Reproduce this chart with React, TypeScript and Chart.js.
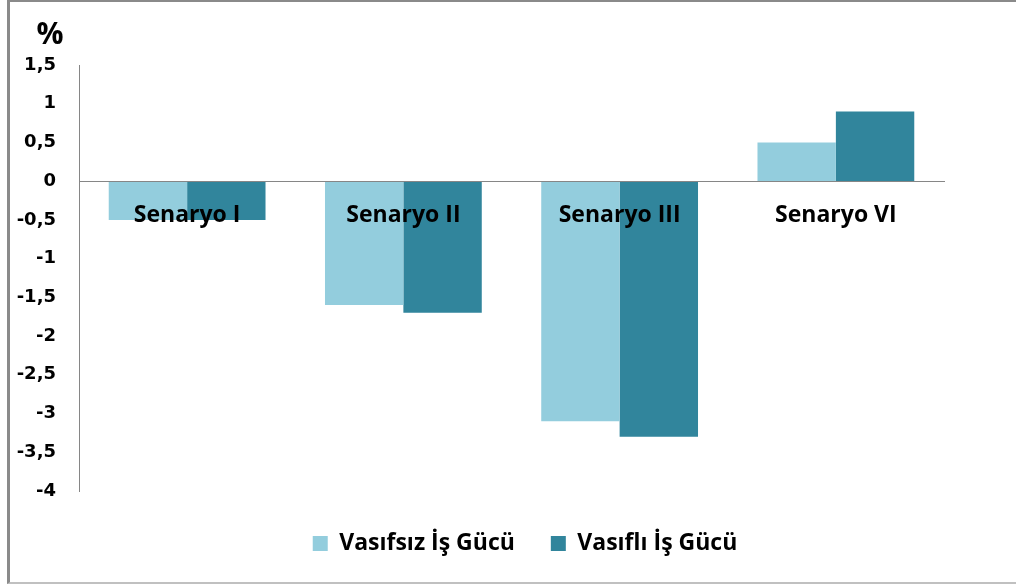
import React, { useEffect, useRef } from "react";
import { Chart, registerables } from "chart.js";

Chart.register(...registerables);

const categories = ["Senaryo I", "Senaryo II", "Senaryo III", "Senaryo VI"];
const unskilledValues = [-0.5, -1.6, -3.1, 0.5];
const skilledValues = [-0.5, -1.7, -3.3, 0.9];
const seriesNames = ["Vasıfsız İş Gücü", "Vasıflı İş Gücü"];
const seriesColors = ["#93CDDD", "#31859C"];
const unitLabel = "%";

const FONT = "'Open Sans', sans-serif";
const TICK_FONT = "'DejaVu Sans', sans-serif";

const unitPlugin = {
  id: "unitLabel",
  afterDraw(chart: any) {
    const ctx = chart.ctx;
    ctx.save();
    ctx.font = `bold 30px ${FONT}`;
    ctx.fillStyle = "#000";
    ctx.textAlign = "center";
    ctx.textBaseline = "middle";
    ctx.fillText(unitLabel, 40, 33);
    ctx.restore();
  },
};

export default function App() {
  const ref = useRef<HTMLCanvasElement | null>(null);

  useEffect(() => {
    if (!ref.current) return;
    const chart = new Chart(ref.current, {
      type: "bar",
      data: {
        labels: categories,
        datasets: [
          {
            label: seriesNames[0],
            data: unskilledValues,
            backgroundColor: seriesColors[0],
            borderWidth: 0,
            categoryPercentage: 0.725,
            barPercentage: 1,
          },
          {
            label: seriesNames[1],
            data: skilledValues,
            backgroundColor: seriesColors[1],
            borderWidth: 0,
            categoryPercentage: 0.725,
            barPercentage: 1,
          },
        ],
      },
      plugins: [unitPlugin],
      options: {
        responsive: false,
        maintainAspectRatio: false,
        animation: false,
        layout: { padding: { top: 63, left: 0, right: -24, bottom: 17 } },
        plugins: {
          tooltip: { enabled: false },
          title: { display: false },
          legend: {
            position: "bottom",
            title: { display: true, text: " ", font: { size: 5, lineHeight: 1 }, padding: 0 },
            labels: {
              boxWidth: 15,
              boxHeight: 15,
              padding: 36,
              color: "#000",
              font: { family: FONT, weight: "bold", size: 23 },
            },
          },
        },
        scales: {
          x: {
            position: { y: 0 } as any,
            grid: { display: false, drawTicks: false },
            border: { display: true, color: "#868686", width: 1, z: 1 },
            ticks: {
              z: 2,
              color: "#000",
              padding: 20,
              font: { family: FONT, weight: "bold", size: 23 },
            },
            afterFit(s: any) {
              s.height = 0;
            },
          },
          y: {
            min: -4,
            max: 1.5,
            grid: { display: false, drawTicks: false },
            border: { display: true, color: "#868686", width: 1 },
            ticks: {
              stepSize: 0.5,
              color: "#000",
              padding: 23,
              font: { family: TICK_FONT, weight: "bold", size: 18 },
              callback: (v: any) => String(Math.round(Number(v) * 10) / 10).replace(".", ","),
            },
            afterFit(s: any) {
              s.width = 69;
            },
          },
          yRight: {
            position: "right",
            display: true,
            grid: { display: false, drawTicks: false },
            border: { display: false },
            ticks: { display: false },
            afterFit(s: any) {
              s.width = 96;
            },
          },
        },
      },
    } as any);
    return () => chart.destroy();
  }, []);

  return (
    <div
      style={{
        position: "absolute",
        left: 7,
        top: 0,
        width: 1009,
        height: 584,
        boxSizing: "border-box",
        borderTop: "2px solid #8a8a8a",
        borderLeft: "3px solid #8a8a8a",
        borderBottom: "2px solid #c0c0c0",
        background: "#fff",
      }}
    >
      <canvas ref={ref} width={1006} height={580} style={{ display: "block" }} />
    </div>
  );
}
